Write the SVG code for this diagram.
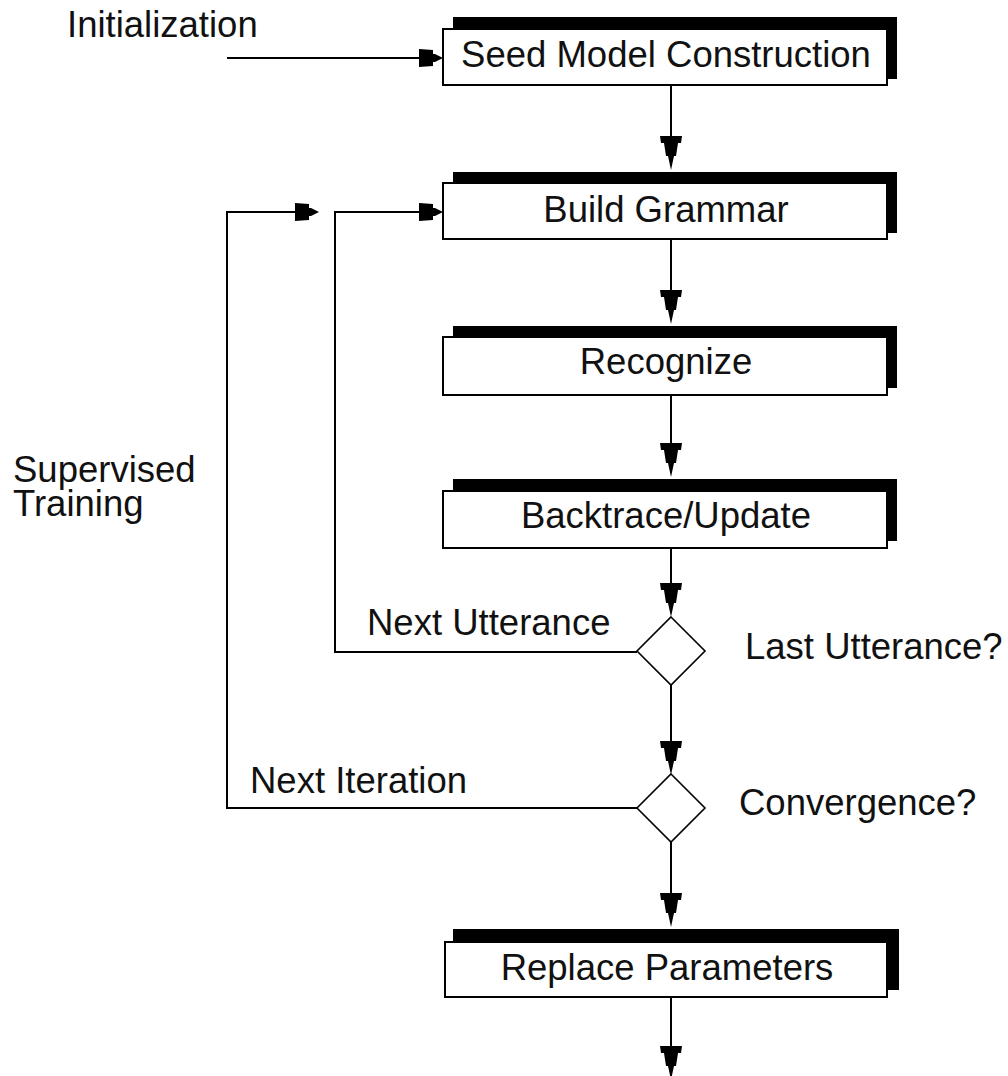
<svg xmlns="http://www.w3.org/2000/svg" xmlns:xlink="http://www.w3.org/1999/xlink" width="1008" height="1076" viewBox="0 0 1008 1076">
<style>
  text { font-family: "Liberation Sans", Arial, sans-serif; font-size: 36.5px; fill: #111; }
  .c { text-anchor: middle; }
  .box { fill: #fff; stroke: #000; stroke-width: 2; }
  .shadow { fill: #000; }
  .dia { fill: #fff; stroke: #000; stroke-width: 1.6; }
  .ln { fill: none; stroke: #000; stroke-width: 2; }
  .ah { fill: #000; }
</style>
<defs>
  <path id="ahd" class="ah" d="M0,0 L-3,-14 L-5,-14 L-7,-27 L-10,-27 L-11,-34 L11,-34 L10,-27 L7,-27 L5,-14 L3,-14 Z"/>
  <path id="ahr" class="ah" d="M0,0 L-8,-4 L-10,-4 L-10,-8 L-24,-9 L-24,9 L-10,8 L-10,4 L-8,4 Z"/>
</defs>
<rect width="1008" height="1076" fill="#fff"/>

<g id="connectors">
  <line class="ln" x1="227" y1="58" x2="425" y2="58"/>
  <use xlink:href="#ahr" transform="translate(443,58)"/>
  <line class="ln" x1="671" y1="85" x2="671" y2="150"/>
  <use xlink:href="#ahd" transform="translate(671,170)"/>
  <line class="ln" x1="671" y1="239" x2="671" y2="305"/>
  <use xlink:href="#ahd" transform="translate(671,324)"/>
  <line class="ln" x1="671" y1="395" x2="671" y2="458"/>
  <use xlink:href="#ahd" transform="translate(671,477)"/>
  <line class="ln" x1="671" y1="548" x2="671" y2="598"/>
  <use xlink:href="#ahd" transform="translate(671,617)"/>
  <line class="ln" x1="671" y1="685" x2="671" y2="756"/>
  <use xlink:href="#ahd" transform="translate(671,775)"/>
  <line class="ln" x1="671" y1="842" x2="671" y2="908"/>
  <use xlink:href="#ahd" transform="translate(671,927)"/>
  <line class="ln" x1="671" y1="997" x2="671" y2="1060"/>
  <use xlink:href="#ahd" transform="translate(671,1080)"/>
  <polyline class="ln" points="637,652 335,652 335,212 425,212"/>
  <use xlink:href="#ahr" transform="translate(443,212)"/>
  <polyline class="ln" points="637,808 227,808 227,212 300,212"/>
  <use xlink:href="#ahr" transform="translate(319,212)"/>
</g>

<g id="initialization-label"><text x="67" y="37">Initialization</text></g>

<g id="seed">
  <rect class="shadow" x="453" y="17" width="444" height="62"/>
  <rect class="box" x="443" y="29" width="444" height="56"/>
  <text class="c" x="666" y="67">Seed Model Construction</text>
</g>
<g id="build">
  <rect class="shadow" x="453" y="172" width="444" height="61"/>
  <rect class="box" x="443" y="183" width="444" height="56"/>
  <text class="c" x="666" y="222">Build Grammar</text>
</g>
<g id="recognize">
  <rect class="shadow" x="453" y="326" width="444" height="62"/>
  <rect class="box" x="443" y="337" width="444" height="58"/>
  <text class="c" x="666" y="374">Recognize</text>
</g>
<g id="backtrace">
  <rect class="shadow" x="453" y="479" width="444" height="62"/>
  <rect class="box" x="443" y="491" width="444" height="57"/>
  <text class="c" x="666" y="528">Backtrace/Update</text>
</g>
<g id="last-utterance">
  <polygon class="dia" points="671,617 705,651 671,685 637,651"/>
  <text x="745" y="659">Last Utterance?</text>
</g>
<g id="convergence">
  <polygon class="dia" points="671,774 705,808 671,842 637,808"/>
  <text x="739" y="815">Convergence?</text>
</g>
<g id="replace">
  <rect class="shadow" x="453" y="929" width="446" height="61"/>
  <rect class="box" x="445" y="942" width="442" height="55"/>
  <text class="c" x="667" y="980">Replace Parameters</text>
</g>
<g id="loop-labels">
  <text x="367" y="635">Next Utterance</text>
  <text x="250" y="793">Next Iteration</text>
  <text x="13" y="482">Supervised<tspan x="13" dy="34">Training</tspan></text>
</g>
</svg>
